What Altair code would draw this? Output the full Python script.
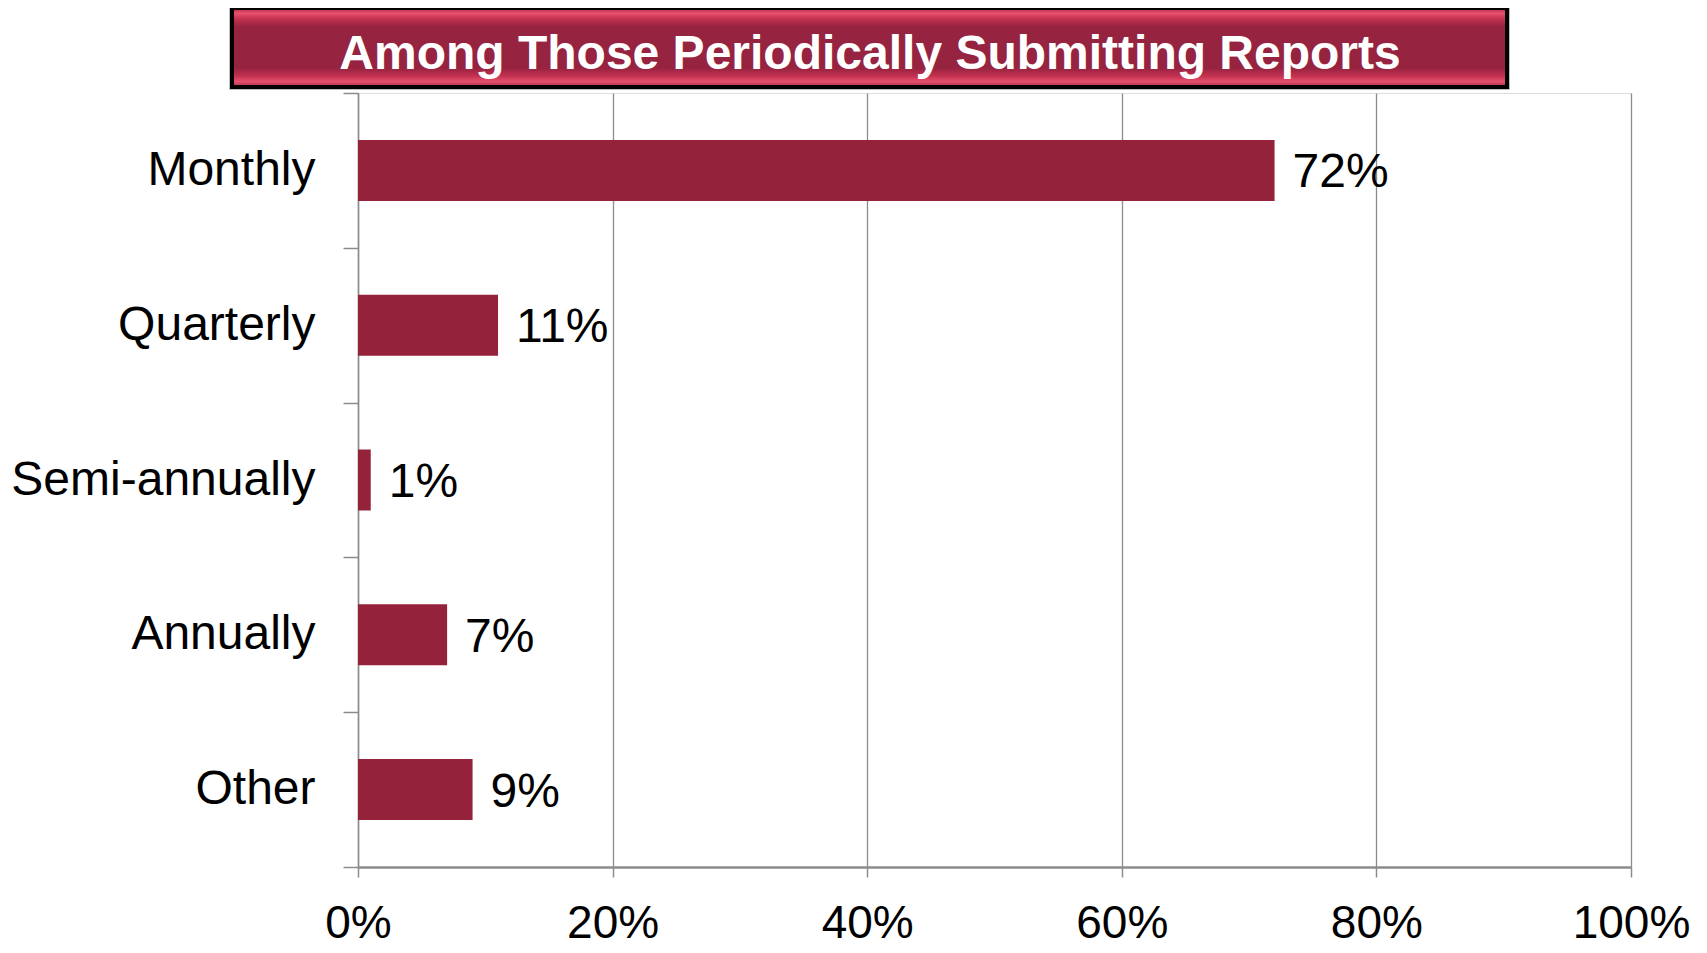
import altair as alt
import pandas as pd

categories = ["Monthly", "Quarterly", "Semi-annually", "Annually", "Other"]
values = [72, 11, 1, 7, 9]
x_ticks = [0, 20, 40, 60, 80, 100]
title_text = "Among Those Periodically Submitting Reports"

df = pd.DataFrame({"cat": categories, "val": values})
df["label"] = [f"{v}%" for v in values]

FONT = "Liberation Sans"
BAR = "#93223A"
GRID = "#8c8c8c"

TOP = 85
W, H = 1273, 774
OFF = 8 + TOP  # absolute y of plot top

y_enc = alt.Y(
    "cat:N",
    sort=categories,
    scale=alt.Scale(paddingInner=0, paddingOuter=0),
    axis=alt.Axis(
        title=None,
        labelFont=FONT,
        labelFontSize=48,
        labelColor="black",
        labelPadding=28,
        labelLimit=500,
        tickBand="extent",
        tickSize=15,
        tickColor=GRID,
        tickWidth=1.5,
        domainColor=GRID,
        domainWidth=1.5,
        grid=False,
    ),
)

x_enc = alt.X(
    "val:Q",
    scale=alt.Scale(domain=[0, 100], nice=False),
    axis=alt.Axis(
        title=None,
        values=x_ticks,
        labelExpr="datum.value + '%'",
        labelFont=FONT,
        labelFontSize=46,
        labelColor="black",
        labelPadding=24,
        tickSize=10,
        tickColor=GRID,
        tickWidth=1.5,
        domainColor=GRID,
        domainWidth=2.5,
        grid=True,
        gridColor=GRID,
        gridWidth=1.3,
        labelFlush=False,
    ),
)

bars = alt.Chart(df).mark_bar(color=BAR, size=61).encode(x=x_enc, y=y_enc)

labels = alt.Chart(df).mark_text(
    align="left", baseline="alphabetic", dx=18, dy=17,
    font=FONT, fontSize=48, color="black"
).encode(x="val:Q", y=alt.Y("cat:N", sort=categories), text="label:N")

banner_df = pd.DataFrame({"t": [title_text]})

gradient = alt.LinearGradient(
    gradient="linear", x1=0, x2=0, y1=0, y2=1,
    stops=[
        alt.GradientStop(offset=0.0, color="#b42c4a"),
        alt.GradientStop(offset=0.07, color="#e5506c"),
        alt.GradientStop(offset=0.14, color="#c2314f"),
        alt.GradientStop(offset=0.24, color="#962340"),
        alt.GradientStop(offset=0.76, color="#962340"),
        alt.GradientStop(offset=0.86, color="#c2314f"),
        alt.GradientStop(offset=0.93, color="#e5506c"),
        alt.GradientStop(offset=1.0, color="#b42c4a"),
    ],
)

bx1, bx2 = 232 - 358, 1507 - 358
by1, by2 = 8 - OFF, 87 - OFF

banner_outer = alt.Chart(banner_df).mark_rect(
    fill="white", stroke="#aaaaaa", strokeWidth=1.5
).encode(x=alt.value(bx1 - 2), x2=alt.value(bx2 + 2), y=alt.value(by1 - 2), y2=alt.value(by2 + 2))

banner = alt.Chart(banner_df).mark_rect(
    fill=gradient, stroke="black", strokeWidth=4
).encode(x=alt.value(bx1), x2=alt.value(bx2), y=alt.value(by1), y2=alt.value(by2))

banner_text = alt.Chart(banner_df).mark_text(
    align="center", baseline="alphabetic", font=FONT, fontSize=48,
    fontWeight="bold", color="white"
).encode(x=alt.value(870 - 358), y=alt.value(69 - OFF), text="t:N")

chart = alt.layer(bars, labels, banner_outer, banner, banner_text).properties(
    width=W, height=H,
    autosize=alt.AutoSizeParams(type="none"),
    padding={"left": 350, "top": TOP, "right": 60, "bottom": 937 - TOP - H},
).configure_view(stroke="transparent").configure(background="white")

chart.save("out.html", embed_options={"renderer": "svg", "actions": False})
